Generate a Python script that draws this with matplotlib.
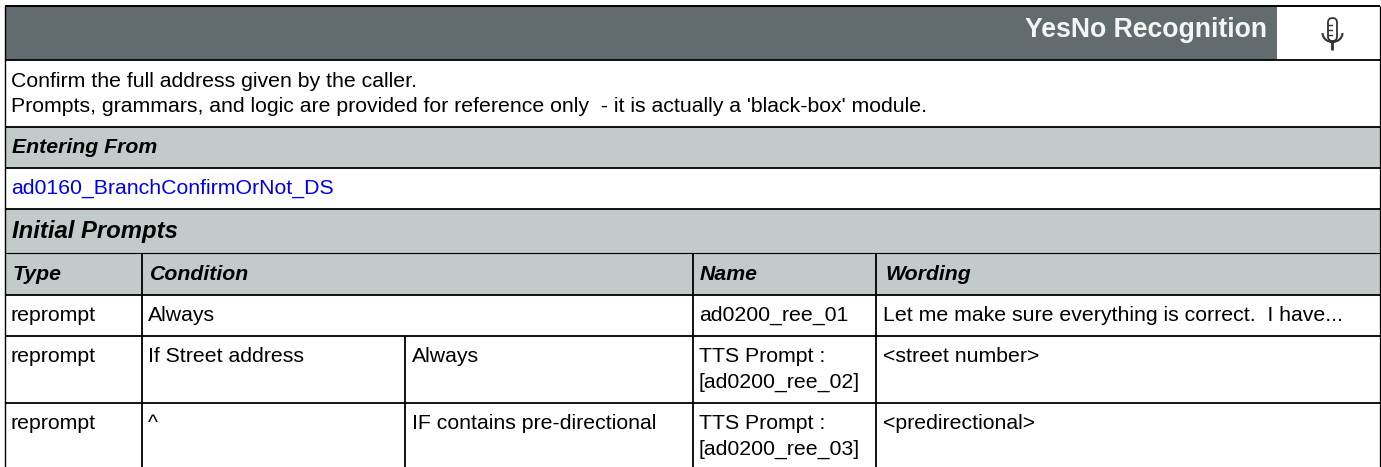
"""plot.py - table page with the YesNo Recognition header"""
import matplotlib
matplotlib.use('Agg')
import matplotlib.pyplot as plt
from matplotlib.patches import Rectangle, FancyBboxPatch, Arc

plt.rcParams['font.family'] = ['Liberation Sans', 'DejaVu Sans']

# --- texts ---
TITLE = 'YesNo Recognition'
DESCRIPTION = ['Confirm the full address given by the caller.',
               "Prompts, grammars, and logic are provided for reference only  - it is actually a 'black-box' module."]
SECTION_FROM = 'Entering From'
LINK = 'ad0160_BranchConfirmOrNot_DS'
SECTION_PROMPTS = 'Initial Prompts'
COLUMNS = ['Type', 'Condition', 'Name', 'Wording']
ROW_TYPES = ['reprompt', 'reprompt', 'reprompt']
ROW_COND_1 = ['Always', 'If Street address', '^']
ROW_COND_2 = ['', 'Always', 'IF contains pre-directional']
ROW_NAMES = ['ad0200_ree_01', 'TTS Prompt :\n[ad0200_ree_02]', 'TTS Prompt :\n[ad0200_ree_03]']
ROW_WORDING = ['Let me make sure everything is correct.  I have...',
               '<street number>', '<predirectional>']

# --- layout in pixels ---
W, H = 1381, 467
DARK = '#626C6E'
GRAY = '#C3CACA'
FS = 15.35
LEFT, RIGHT = 5.5, 1380
X_COND, X_COND2, X_NAME, X_WORD = 142.5, 405.5, 693.5, 876.5
Y_TOP, Y_HEAD, Y_DESC, Y_FROM, Y_LINK, Y_INIT = 6, 60, 127, 168, 209, 253
Y_COLS, Y_R1, Y_R2 = 295, 336, 403
LINE_STEP = 26

fig = plt.figure(figsize=(W / 100, H / 100), dpi=100)
ax = fig.add_axes([0, 0, 1, 1])
ax.set_xlim(0, W)
ax.set_ylim(H, 0)
ax.axis('off')


def band(x0, y0, x1, y1, color):
    ax.add_patch(Rectangle((x0, y0), x1 - x0, y1 - y0, facecolor=color, edgecolor='none', zorder=1))


def hline(y, x0=LEFT, x1=RIGHT, lw=1.3):
    ax.plot([x0, x1], [y, y], color='black', lw=lw, solid_capstyle='butt', zorder=3)


def vline(x, y0, y1, lw=1.3):
    ax.plot([x, x], [y0, y1], color='black', lw=lw, solid_capstyle='butt', zorder=3)


def put(x, y, s, **kw):
    kw.setdefault('fontsize', FS)
    kw.setdefault('color', 'black')
    ha = kw.pop('ha', 'left')
    for k, part in enumerate(s.split('\n')):
        ax.text(x, y + k * LINE_STEP, part, va='baseline', ha=ha, zorder=4, **kw)


# pasy
band(LEFT, Y_TOP, 1277, Y_HEAD, DARK)
band(LEFT, Y_DESC, RIGHT, Y_FROM, GRAY)
band(LEFT, Y_LINK, RIGHT, Y_COLS, GRAY)

# ciary
for y in [Y_HEAD, Y_DESC, Y_FROM, Y_LINK, Y_COLS, Y_R1, Y_R2]:
    hline(y)
hline(Y_TOP, lw=1.4)
hline(Y_INIT, lw=0.8)
vline(LEFT, Y_TOP, H, lw=1.0)
vline(RIGHT, Y_TOP, H, lw=0.9)
vline(X_COND, Y_INIT, H)
vline(X_NAME, Y_INIT, H)
vline(X_WORD, Y_INIT, H)
vline(X_COND2, Y_R1, H)

# hlavicka
put(1267, 37, TITLE, ha='right', color='#F4F6F6', fontweight='bold', fontsize=19.2)

# mikrofon
MIC = '#333333'
ax.add_patch(FancyBboxPatch((1328, 18), 9, 23, boxstyle='round,pad=0,rounding_size=4.5',
                            facecolor='white', edgecolor=MIC, lw=1.3, zorder=4))
ax.plot([1328, 1332], [25, 25], color=MIC, lw=1, zorder=5)
ax.plot([1328, 1332], [30, 30], color=MIC, lw=1, zorder=5)
ax.plot([1328, 1332], [35, 35], color=MIC, lw=1, zorder=5)
ax.add_patch(Arc((1332.5, 33), 20, 18, theta1=0, theta2=180, color=MIC, lw=1.5, zorder=3))
ax.plot([1332.5, 1332.5], [42, 50], color=MIC, lw=2, solid_capstyle='butt', zorder=4)

# popis
put(11, 87, DESCRIPTION[0])
put(11, 112, DESCRIPTION[1])

# sekcie
put(12, 153, SECTION_FROM, fontweight='bold', fontstyle='italic')
put(11, 194, LINK, color='#0000EE')
put(12, 238, SECTION_PROMPTS, fontweight='bold', fontstyle='italic', fontsize=17.2)

# stlpce
col_x = [13, 150, 700, 885]
for x, s in zip(col_x, COLUMNS):
    put(x, 280, s, fontweight='bold', fontstyle='italic')

# riadky
row_y = [321, 362, 429]
for i, y in enumerate(row_y):
    put(11, y, ROW_TYPES[i])
    put(148, y, ROW_COND_1[i])
    if ROW_COND_2[i]:
        put(412, y, ROW_COND_2[i])
    put(699, y, ROW_NAMES[i])
    put(883, y, ROW_WORDING[i])

fig.savefig('out.png', dpi=100)
